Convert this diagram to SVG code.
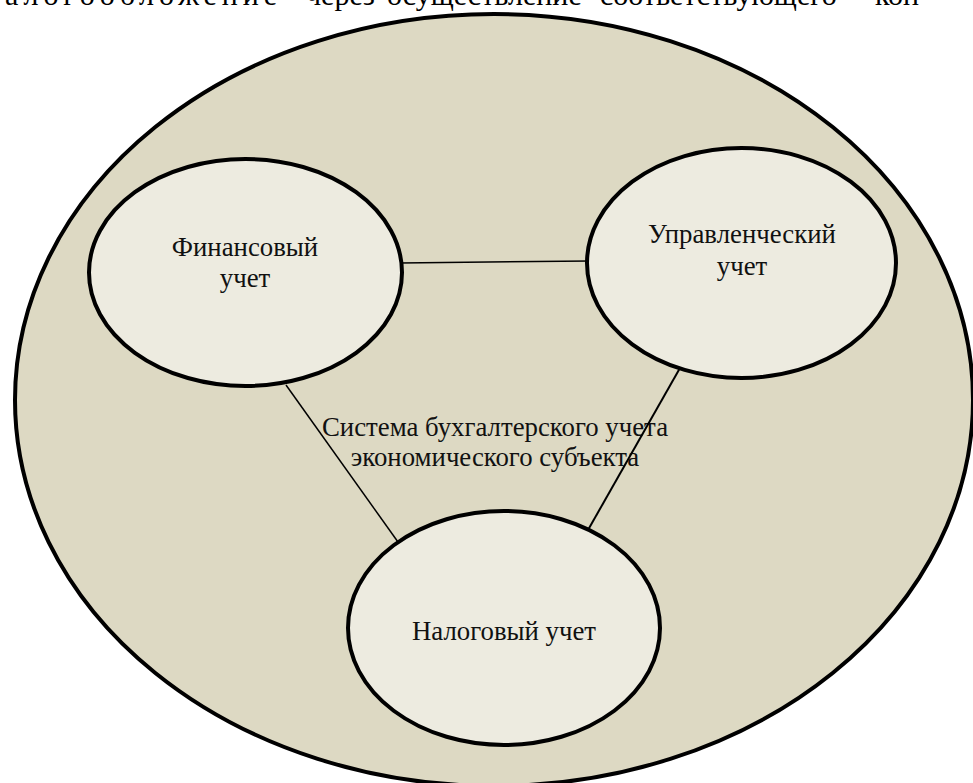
<svg xmlns="http://www.w3.org/2000/svg" width="973" height="783" viewBox="0 0 973 783">
  <style>
    .page { font-family: "Liberation Serif", "Times New Roman", serif; font-size: 30px; fill: #000; }
    .label { font-family: "Liberation Serif", "Times New Roman", serif; font-size: 26.8px; fill: #111; text-anchor: middle; }
    .outer { fill: #DDD9C3; stroke: #000; stroke-width: 4; }
    .part { fill: #EDEBE0; stroke: #000; stroke-width: 4; }
    .link { stroke: #000; stroke-width: 1.5; fill: none; }
  </style>
  <rect width="973" height="783" fill="#FFFFFF"/>

  <!-- running text line of the page above the figure -->
  <text class="page" y="5">
    <tspan x="-16" textLength="293" lengthAdjust="spacing">налогообложение</tspan>
    <tspan x="306">через</tspan>
    <tspan x="387">осуществление</tspan>
    <tspan x="600">соответствующего</tspan>
    <tspan x="875">кон</tspan>
  </text>

  <!-- enclosing system -->
  <g id="system">
    <ellipse class="outer" cx="494" cy="400" rx="479" ry="386"/>
    <text class="label" x="495" y="436">Система бухгалтерского учета</text>
    <text class="label" x="495" y="466">экономического субъекта</text>
  </g>

  <!-- connectors between the three kinds of accounting -->
  <g id="connectors">
    <line class="link" x1="400" y1="263" x2="590" y2="261"/>
    <line class="link" x1="286" y1="385" x2="398" y2="542"/>
    <line class="link" x1="680" y1="368" x2="588" y2="530" style="stroke-width:2"/>
  </g>

  <g id="financial">
    <ellipse class="part" cx="245.5" cy="272.5" rx="156.5" ry="113.5"/>
    <text class="label" x="245" y="256">Финансовый</text>
    <text class="label" x="245" y="287">учет</text>
  </g>

  <g id="management">
    <ellipse class="part" cx="741.5" cy="263" rx="154.5" ry="115"/>
    <text class="label" x="742" y="243">Управленческий</text>
    <text class="label" x="742" y="275">учет</text>
  </g>

  <g id="tax">
    <ellipse class="part" cx="504" cy="628" rx="156" ry="117"/>
    <text class="label" x="504" y="640">Налоговый учет</text>
  </g>
</svg>
